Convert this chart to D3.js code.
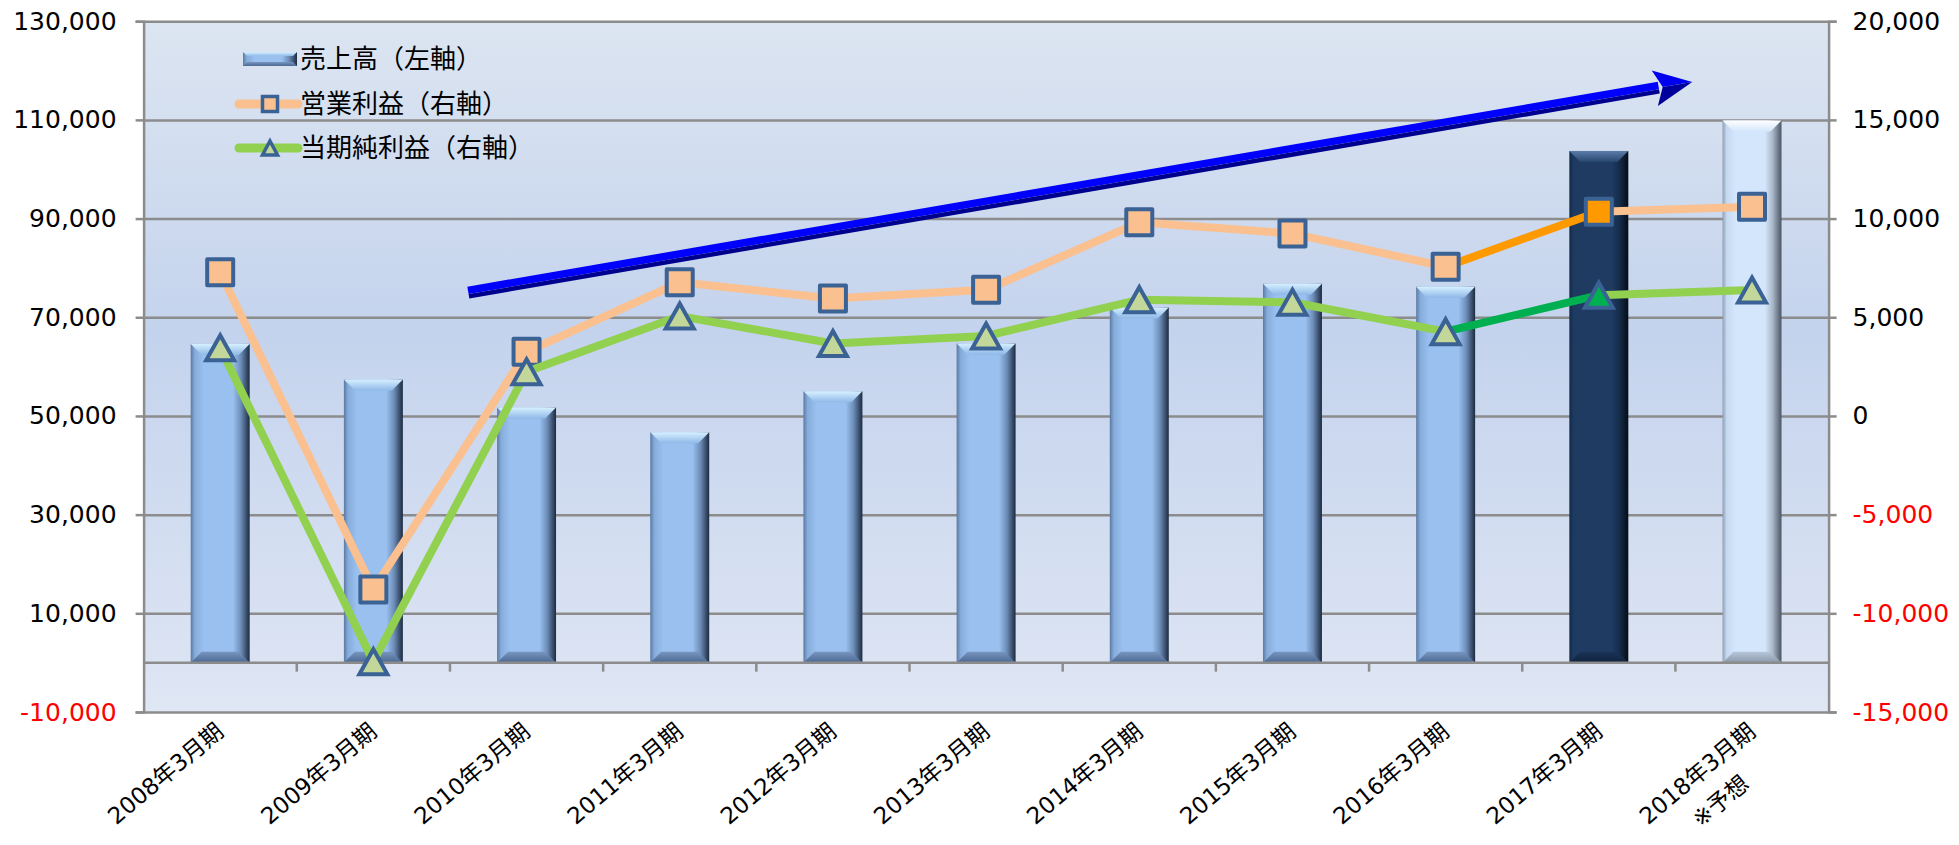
<!DOCTYPE html>
<html>
<head>
<meta charset="utf-8">
<script src="https://cdn.jsdelivr.net/npm/d3@7"></script>
<style>
  body { margin: 0; background: #fff; }
  .num { font-family: "DejaVu Sans", "Noto Sans CJK JP", sans-serif; font-size: 25px; }
  .cat { font-family: "DejaVu Sans", "Noto Sans CJK JP", sans-serif; font-size: 23px; }
  .leg { font-family: "Noto Sans CJK JP", sans-serif; font-size: 26px; }
</style>
</head>
<body>
<div id="chart"></div>
<script>
// data
const categories = ["2008年3月期", "2009年3月期", "2010年3月期", "2011年3月期", "2012年3月期", "2013年3月期",
  "2014年3月期", "2015年3月期", "2016年3月期", "2017年3月期", "2018年3月期"];
const categoryNotes = ["", "", "", "", "", "", "", "", "", "", "※予想"];
const sales = [64600, 57400, 51700, 46700, 55000, 64700, 72000, 76800, 76200, 103700, 109900];
const operatingProfit = [7280, -8790, 3250, 6770, 5950, 6390, 9810, 9240, 7560, 10350, 10600];
const netProfit = [3450, -12450, 2240, 5060, 3670, 4050, 5890, 5760, 4270, 6120, 6380];
const leftTicks = [-10000, 10000, 30000, 50000, 70000, 90000, 110000, 130000];
const rightTicks = [-15000, -10000, -5000, 0, 5000, 10000, 15000, 20000];
const legendLabels = ["売上高（左軸）", "営業利益（右軸）", "当期純利益（右軸）"];
// trend arrow, in [category index, left axis value]
const trendArrow = [[1.62, 75000], [9.61, 117700]];

const W = 1959, H = 845;
const plot = { left: 143.6, right: 1828.6, top: 21.2, bottom: 712 };
const actualIdx = 9, forecastIdx = 10;

const fmt = d3.formatLocale({ decimal: ".", thousands: ",", grouping: [3], currency: ["", ""], minus: "-" }).format(",");

const svg = d3.select("#chart").append("svg")
  .attr("width", W).attr("height", H)
  .attr("viewBox", `0 0 ${W} ${H}`);
const defs = svg.append("defs");

// scales
const x = d3.scaleBand().domain(categories)
  .range([plot.left, plot.right])
  .paddingInner(0.615).paddingOuter(0.3075);
const xi = d3.scaleLinear().domain([-0.5, categories.length - 0.5]).range([plot.left, plot.right]);
const yL = d3.scaleLinear().domain([-10000, 130000]).range([plot.bottom, plot.top]);
const yR = d3.scaleLinear().domain([-15000, 20000]).range([plot.bottom, plot.top]);
const cx = i => x(categories[i]) + x.bandwidth() / 2;

// plot background
const bg = defs.append("linearGradient").attr("id", "bg").attr("x1", 0).attr("y1", 0).attr("x2", 0).attr("y2", 1);
bg.append("stop").attr("offset", 0).attr("stop-color", "#dce5f1");
bg.append("stop").attr("offset", 0.45).attr("stop-color", "#c4d3ed");
bg.append("stop").attr("offset", 1).attr("stop-color", "#dfe6f4");
svg.append("rect")
  .attr("x", plot.left).attr("y", plot.top)
  .attr("width", plot.right - plot.left).attr("height", plot.bottom - plot.top)
  .attr("fill", "url(#bg)");

// gridlines + left axis
const gridColor = "#8c8c8c";
const gAxisL = svg.append("g")
  .attr("transform", `translate(${plot.left},0)`)
  .call(d3.axisLeft(yL).tickValues(leftTicks).tickSize(8).tickPadding(19).tickFormat(fmt));
gAxisL.select(".domain").attr("stroke", gridColor).attr("stroke-width", 2.5);
gAxisL.selectAll(".tick line").attr("stroke", gridColor).attr("stroke-width", 2.5)
  .clone().attr("x2", plot.right - plot.left).attr("x1", 0);
gAxisL.selectAll(".tick text").attr("class", "num")
  .attr("fill", d => d < 0 ? "#ff0000" : "#000");
gAxisL.attr("font-family", null).attr("font-size", null);

// right axis
const gAxisR = svg.append("g")
  .attr("transform", `translate(${plot.right},0)`)
  .call(d3.axisRight(yR).tickValues(rightTicks).tickSize(8).tickPadding(16).tickFormat(fmt));
gAxisR.select(".domain").attr("stroke", gridColor).attr("stroke-width", 2.5);
gAxisR.selectAll(".tick line").attr("stroke", gridColor).attr("stroke-width", 2.5);
gAxisR.selectAll(".tick text").attr("class", "num")
  .attr("fill", d => d < 0 ? "#ff0000" : "#000");
gAxisR.attr("font-family", null).attr("font-size", null);

// bar palettes (3D bevel look)
const palettes = {
  normal: { l: "#5a79a2", l2: "#86acdb", body: "#99c0ee", r2: "#6d8db8", r: "#1c2b40", t1: "#d6f0ff", t2: "#90b9e8", b1: "#7896c0", b2: "#4a6891" },
  dark:   { l: "#132a47", l2: "#1d3a61", body: "#1f3b62", r2: "#152c4a", r: "#050c16", t1: "#5a7ca8", t2: "#28476f", b1: "#1a3356", b2: "#10233f" },
  light:  { l: "#8f9eb2", l2: "#c5d9f1", body: "#d4e6fc", r2: "#a9b7c8", r: "#4b5564", t1: "#ffffff", t2: "#d4e6fc", b1: "#b7c6da", b2: "#8b99ac" }
};
Object.entries(palettes).forEach(([k, p]) => {
  const h = defs.append("linearGradient").attr("id", "bh-" + k);
  [[0, p.l], [0.07, p.l2], [0.22, p.body], [0.72, p.body], [0.85, p.r2], [1, p.r]].forEach(s =>
    h.append("stop").attr("offset", s[0]).attr("stop-color", s[1]));
  const t = defs.append("linearGradient").attr("id", "bt-" + k).attr("x1", 0).attr("y1", 0).attr("x2", 0).attr("y2", 1);
  t.append("stop").attr("offset", 0).attr("stop-color", p.t1);
  t.append("stop").attr("offset", 1).attr("stop-color", p.t2);
  const b = defs.append("linearGradient").attr("id", "bb-" + k).attr("x1", 0).attr("y1", 0).attr("x2", 0).attr("y2", 1);
  b.append("stop").attr("offset", 0).attr("stop-color", p.b1);
  b.append("stop").attr("offset", 1).attr("stop-color", p.b2);
});
const paletteOf = i => i === actualIdx ? "dark" : (i === forecastIdx ? "light" : "normal");

function bevelBar(g, x0, y0, w, h, k, bv) {
  g.append("rect").attr("x", x0).attr("y", y0).attr("width", w).attr("height", h)
    .attr("fill", `url(#bh-${k})`);
  g.append("polygon")
    .attr("points", [[x0, y0], [x0 + w, y0], [x0 + w - bv, y0 + bv], [x0 + bv, y0 + bv]].join(" "))
    .attr("fill", `url(#bt-${k})`);
  g.append("polygon")
    .attr("points", [[x0 + bv, y0 + h - bv], [x0 + w - bv, y0 + h - bv], [x0 + w, y0 + h], [x0, y0 + h]].join(" "))
    .attr("fill", `url(#bb-${k})`);
}

// bars
const gBars = svg.append("g");
sales.forEach((v, i) => {
  const g = gBars.append("g");
  bevelBar(g, x(categories[i]), yL(v), x.bandwidth(), yL(0) - yL(v), paletteOf(i), 11);
});

// category axis at zero
const gCat = svg.append("g");
gCat.append("line")
  .attr("x1", plot.left).attr("x2", plot.right)
  .attr("y1", yL(0)).attr("y2", yL(0))
  .attr("stroke", gridColor).attr("stroke-width", 2.5);
gCat.selectAll("line.tk").data(d3.range(1, categories.length)).join("line")
  .attr("class", "tk")
  .attr("x1", d => xi(d - 0.5)).attr("x2", d => xi(d - 0.5))
  .attr("y1", yL(0)).attr("y2", yL(0) + 9)
  .attr("stroke", gridColor).attr("stroke-width", 2.5);

// category labels, rotated
const angle = -40;
categories.forEach((c, i) => {
  const g = svg.append("g")
    .attr("transform", `translate(${cx(i) + 5},${734}) rotate(${angle})`);
  const t1 = g.append("text").attr("class", "cat").attr("text-anchor", "end").text(c);
  if (categoryNotes[i]) {
    const len = t1.node().getComputedTextLength();
    g.append("text").attr("class", "cat").attr("text-anchor", "middle")
      .attr("x", -len / 2).attr("y", 36).text(categoryNotes[i]);
  }
});

// trend arrow
(function () {
  const p0 = [xi(trendArrow[0][0]), yL(trendArrow[0][1])];
  const p1 = [xi(trendArrow[1][0]), yL(trendArrow[1][1])];
  const dx = p1[0] - p0[0], dy = p1[1] - p0[1];
  const L = Math.hypot(dx, dy);
  const u = [dx / L, dy / L], n = [-u[1], u[0]]; // n points down-ish
  const hw = 6, headLen = 38, headHw = 18;
  const pt = (base, a, b) => [base[0] + u[0] * a + n[0] * b, base[1] + u[1] * a + n[1] * b];
  const g = svg.append("g");
  const sEnd = L - headLen + 4;
  g.append("polygon").attr("fill", "#0000ff")
    .attr("points", [pt(p0, 0, -hw), pt(p0, sEnd, -hw), pt(p0, sEnd, 1.5), pt(p0, 0, 1.5)].join(" "));
  g.append("polygon").attr("fill", "#00008e")
    .attr("points", [pt(p0, 0, 1.5), pt(p0, sEnd, 1.5), pt(p0, sEnd, hw), pt(p0, 0, hw)].join(" "));
  g.append("polygon").attr("fill", "#0000f0")
    .attr("points", [pt(p0, L - headLen, -headHw), pt(p0, L, 0), pt(p0, L - headLen + 8, 0)].join(" "));
  g.append("polygon").attr("fill", "#00009a")
    .attr("points", [pt(p0, L - headLen + 8, 0), pt(p0, L, 0), pt(p0, L - headLen, headHw)].join(" "));
})();

// line series
const markerStroke = "#3a6294";
const series = [
  { values: operatingProfit, color: "#fac090", hi: "#ff9900", marker: "square" },
  { values: netProfit, color: "#92d050", hi: "#00b050", marker: "triangle", fill: "#c4d79b" }
];
const squarePath = s => `M${-s / 2},${-s / 2}H${s / 2}V${s / 2}H${-s / 2}Z`;
const triPath = (w, h) => `M0,${-h / 2}L${w / 2},${h / 2}L${-w / 2},${h / 2}Z`;

series.forEach(s => {
  const g = svg.append("g");
  d3.range(s.values.length - 1).forEach(i => {
    g.append("line")
      .attr("x1", cx(i)).attr("y1", yR(s.values[i]))
      .attr("x2", cx(i + 1)).attr("y2", yR(s.values[i + 1]))
      .attr("stroke", i === actualIdx - 1 ? s.hi : s.color)
      .attr("stroke-width", 8).attr("stroke-linecap", "round");
  });
  s.values.forEach((v, i) => {
    const base = s.marker === "square" ? s.color : s.fill;
    g.append("path")
      .attr("transform", `translate(${cx(i)},${yR(v)})`)
      .attr("d", s.marker === "square" ? squarePath(26) : triPath(28, 25))
      .attr("fill", i === actualIdx ? s.hi : base)
      .attr("stroke", markerStroke).attr("stroke-width", 4)
      .attr("stroke-linejoin", s.marker === "square" ? "round" : "miter");
  });
});

// legend
const leg = svg.append("g");
const legRows = [59, 104, 148];
const legSym = { x1: 239, x2: 298 };
bevelBar(leg, 243, legRows[0] - 7, 54, 14, "normal", 4);
leg.append("line").attr("x1", legSym.x1).attr("x2", legSym.x2)
  .attr("y1", legRows[1]).attr("y2", legRows[1])
  .attr("stroke", series[0].color).attr("stroke-width", 9).attr("stroke-linecap", "round");
leg.append("path").attr("transform", `translate(270,${legRows[1]})`)
  .attr("d", squarePath(15)).attr("fill", series[0].color)
  .attr("stroke", markerStroke).attr("stroke-width", 3.5);
leg.append("line").attr("x1", legSym.x1).attr("x2", legSym.x2)
  .attr("y1", legRows[2]).attr("y2", legRows[2])
  .attr("stroke", series[1].color).attr("stroke-width", 9).attr("stroke-linecap", "round");
leg.append("path").attr("transform", `translate(270,${legRows[2]})`)
  .attr("d", triPath(15, 14)).attr("fill", series[1].fill)
  .attr("stroke", markerStroke).attr("stroke-width", 3.5);
leg.selectAll("text").data(legendLabels).join("text")
  .attr("class", "leg")
  .attr("x", 300).attr("y", (d, i) => legRows[i])
  .attr("dy", "0.36em")
  .text(d => d);
</script>
</body>
</html>
